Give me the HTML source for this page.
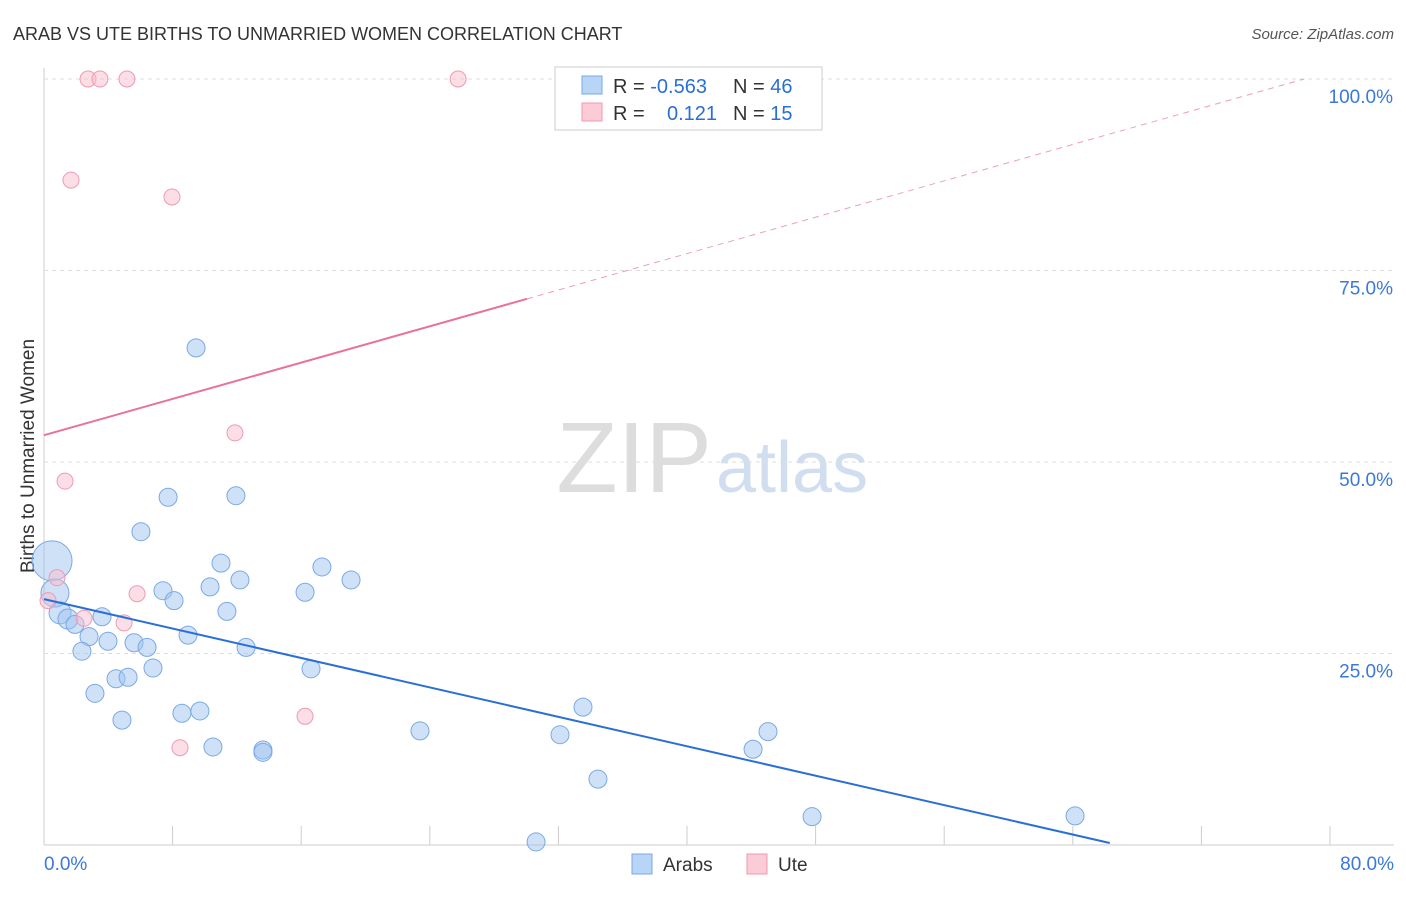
<!DOCTYPE html>
<html><head><meta charset="utf-8"><style>
body{margin:0;background:#fff;font-family:"Liberation Sans",sans-serif;}
svg text{font-family:"Liberation Sans",sans-serif;}
</style></head><body>
<svg id="c" width="1406" height="892" xmlns="http://www.w3.org/2000/svg">
<text x="13" y="40" font-size="18" fill="#333">ARAB VS UTE BIRTHS TO UNMARRIED WOMEN CORRELATION CHART</text>
<text x="1394" y="39" font-size="15" fill="#555" text-anchor="end" font-style="italic">Source: ZipAtlas.com</text>
<text x="34" y="456" font-size="19" fill="#333" transform="rotate(-90 34 456)" text-anchor="middle">Births to Unmarried Women</text>
<text x="712" y="492" font-size="100" fill="#ddd" font-family="Liberation Serif" text-anchor="end">ZIP</text>
<text x="716" y="492" font-size="72" fill="#d0def0">atlas</text>
<g id="grid"></g><g id="marks"></g>
<g>
<rect x="555" y="67" width="267" height="63" fill="#fff" stroke="#ccc"/>
<rect x="582" y="76" width="20" height="18" fill="#b8d4f6" stroke="#7aa9e6"/>
<rect x="582" y="103" width="20" height="18" fill="#fbcbd8" stroke="#ef9ab2"/>
<text x="613" y="93" font-size="20" fill="#333">R = <tspan fill="#2a6fd6">-0.563</tspan><tspan x="733">N = </tspan><tspan fill="#2a6fd6">46</tspan></text>
<text x="613" y="120" font-size="20" fill="#333">R = <tspan x="667" fill="#2a6fd6">0.121</tspan><tspan x="733">N = </tspan><tspan fill="#2a6fd6"> 15</tspan></text>
</g>
<g>
<rect x="632" y="854" width="20" height="20" fill="#b8d4f6" stroke="#7aa9e6"/>
<text x="663" y="871" font-size="19" fill="#333">Arabs</text>
<rect x="747" y="854" width="20" height="20" fill="#fbcbd8" stroke="#ef9ab2"/>
<text x="778" y="871" font-size="19" fill="#333">Ute</text>
</g>
</svg>
<script>
const xTicks=[0,8,16,24,32,40,48,56,64,72,80];
const yTicks=[25,50,75,100];
const arabX=[0.5,0.68,1.0,1.49,1.93,2.8,2.36,3.17,3.61,3.98,4.48,4.85,5.23,5.6,6.03,6.41,6.78,7.4,7.72,8.09,8.58,8.96,9.46,9.7,10.33,10.51,11.01,11.38,11.94,12.19,12.57,13.62,13.62,16.24,16.61,17.29,19.1,23.39,30.61,32.1,33.53,34.46,44.11,45.04,47.78,64.14];
const arabY=[37.1,32.9,30.3,29.5,28.8,27.2,25.3,19.8,29.8,26.6,21.7,16.3,21.9,26.4,40.9,25.8,23.1,33.2,45.4,31.9,17.2,27.4,64.9,17.5,33.7,12.8,36.8,30.5,45.6,34.6,25.8,12.4,12.1,33.0,23.0,36.3,34.6,14.9,0.4,14.4,18.0,8.6,12.5,14.8,3.7,3.8];
const arabSize=[20,14,11,10,9,9,9,9,9,9,9,9,9,9,9,9,9,9,9,9,9,9,9,9,9,9,9,9,9,9,9,9,9,9,9,9,9,9,9,9,9,9,9,9,9,9];
const uteX=[0.25,0.81,1.31,1.68,2.49,2.74,3.48,4.98,5.16,5.79,7.96,8.46,11.88,16.24,25.76];
const uteY=[31.9,34.9,47.5,86.8,29.6,100,100,29.0,100,32.8,84.6,12.7,53.8,16.8,100];
const arabTrend=[[0,32.1],[66.3,0.26]];
const uteTrendSolid=[[0,53.5],[30.05,71.3]];
const uteTrendDash=[[30.05,71.3],[78.4,100]];
const X=v=>44+v/80*1286, Y=v=>845-v/100*766;
const NS="http://www.w3.org/2000/svg";
function mk(p,tag,at){const e=document.createElementNS(NS,tag);for(const k in at)e.setAttribute(k,at[k]);p.appendChild(e);return e;}
const g=document.getElementById('grid'), m=document.getElementById('marks');
let ax=mk(g,'line',{x1:44,y1:68,x2:44,y2:845,stroke:'#ccc'});


let bx=mk(g,'line',{x1:44,y1:845,x2:1394,y2:845,stroke:'#ccc'});


yTicks.forEach(t=>{const l=mk(g,'line',{x1:44,x2:1394,y1:Y(t),y2:Y(t),stroke:'#ddd','stroke-dasharray':'4,4'});


const tx=mk(g,'text',{x:1393,y:Y(t)+24,'font-size':19,fill:'#3b78d8','text-anchor':'end'});tx.textContent=t.toFixed(1)+'%';

});
xTicks.forEach((t,i)=>{if(i>0){const l=mk(g,'line',{x1:X(t),x2:X(t),y1:826,y2:845,stroke:'#ccc'});

}});
[[0,'start',44],[80,'end',1394]].forEach(([t,a,px])=>{const tx=mk(g,'text',{x:px,y:870,'font-size':19,fill:'#3b78d8','text-anchor':a});tx.textContent=t.toFixed(1)+'%';

});
arabX.forEach((v,i)=>{const c=mk(m,'circle',{cx:X(v),cy:Y(arabY[i]),r:arabSize[i],fill:'rgba(160,196,240,0.5)',stroke:'#7aa9e6','stroke-width':1});

});
uteX.forEach((v,i)=>{const c=mk(m,'circle',{cx:X(v),cy:Y(uteY[i]),r:8,fill:'rgba(250,190,208,0.5)',stroke:'#ef9ab2','stroke-width':1});

});
function line(p,st,name){const l=mk(m,'line',Object.assign({x1:X(p[0][0]),y1:Y(p[0][1]),x2:X(p[1][0]),y2:Y(p[1][1])},st));

}
line(arabTrend,{stroke:'#2a6fd6','stroke-width':2},'arab-trend-line');
line(uteTrendSolid,{stroke:'#e8729a','stroke-width':2},'ute-trend-line');
line(uteTrendDash,{stroke:'#eba0b8','stroke-width':1,'stroke-dasharray':'6,5'},'ute-trend-extension');
</script>
</body></html>
